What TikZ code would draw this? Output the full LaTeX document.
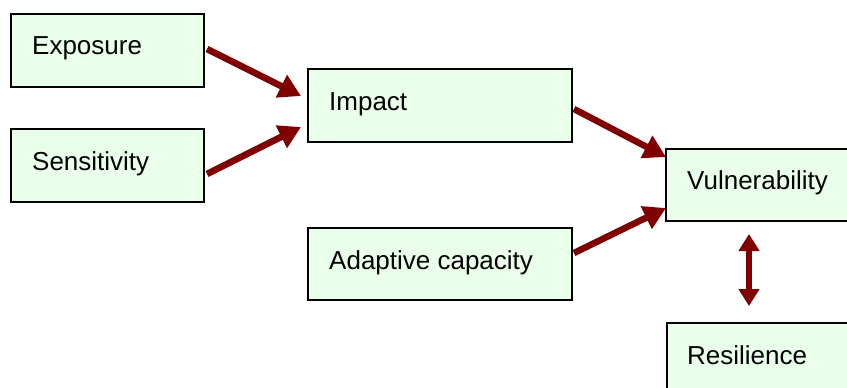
\documentclass[tikz,border=0pt]{standalone}
\usepackage{fontspec}
\setmainfont{Liberation Sans}
\usetikzlibrary{arrows.meta,calc}
\definecolor{boxfill}{HTML}{EAFFEA}
\definecolor{arrred}{HTML}{800000}
\tikzset{
  box/.style={draw=black, line width=2pt, fill=boxfill, rectangle, inner sep=0pt, anchor=north west},
  lbl/.style={anchor=base west, inner sep=0pt, font=\fontsize{26}{30}\selectfont},
  conn/.style={draw=arrred, line width=6.5pt, -{Triangle[length=22pt,width=24pt]}},
  conn2/.style={draw=arrred, line width=6pt, {Triangle[length=17pt,width=20pt]}-{Triangle[length=17pt,width=20pt]}}
}
\begin{document}
\begin{tikzpicture}[x=1pt,y=-1pt]
\useasboundingbox (0,0) rectangle (847,388);
\clip (0,0) rectangle (847,388);
\fill[white] (0,0) rectangle (847,388);
% boxes
\node[box, minimum width=193pt, minimum height=73pt] (exp) at (10,13) {};
\node[box, minimum width=193pt, minimum height=73pt] (sen) at (10,128) {};
\node[box, minimum width=264pt, minimum height=73pt] (imp) at (307,68) {};
\node[box, minimum width=264pt, minimum height=72pt] (ada) at (307,227) {};
\node[box, minimum width=200pt, minimum height=72pt] (vul) at (665,148) {};
\node[box, minimum width=200pt, minimum height=73pt] (res) at (666,322) {};
% labels
\node[lbl] (expT) at ($(exp.north west)+(22,41)$) {Exposure};
\node[lbl] (senT) at ($(sen.north west)+(22,42)$) {Sensitivity};
\node[lbl] (impT) at ($(imp.north west)+(22,42)$) {Impact};
\node[lbl] (adaT) at ($(ada.north west)+(22,42)$) {Adaptive capacity};
\node[lbl] (vulT) at ($(vul.north west)+(22,41)$) {Vulnerability};
\node[lbl] (resT) at ($(res.north west)+(21,42)$) {Resilience};
% connectors
\draw[conn] ($(exp.east)+(2,-1.5)$) -- ($(imp.west)+(-6,-9.5)$);
\draw[conn] ($(sen.east)+(2,8.5)$) -- ($(imp.west)+(-6,21.5)$);
\draw[conn] ($(imp.east)+(1,3.5)$) -- ($(vul.west)+(1,-28)$);
\draw[conn] ($(ada.east)+(1,-11)$) -- ($(vul.west)+(1,23)$);
\draw[conn2] ($(vul.south west)+(84,12)$) -- ($(res.north west)+(83,-16)$);
\end{tikzpicture}
\end{document}
